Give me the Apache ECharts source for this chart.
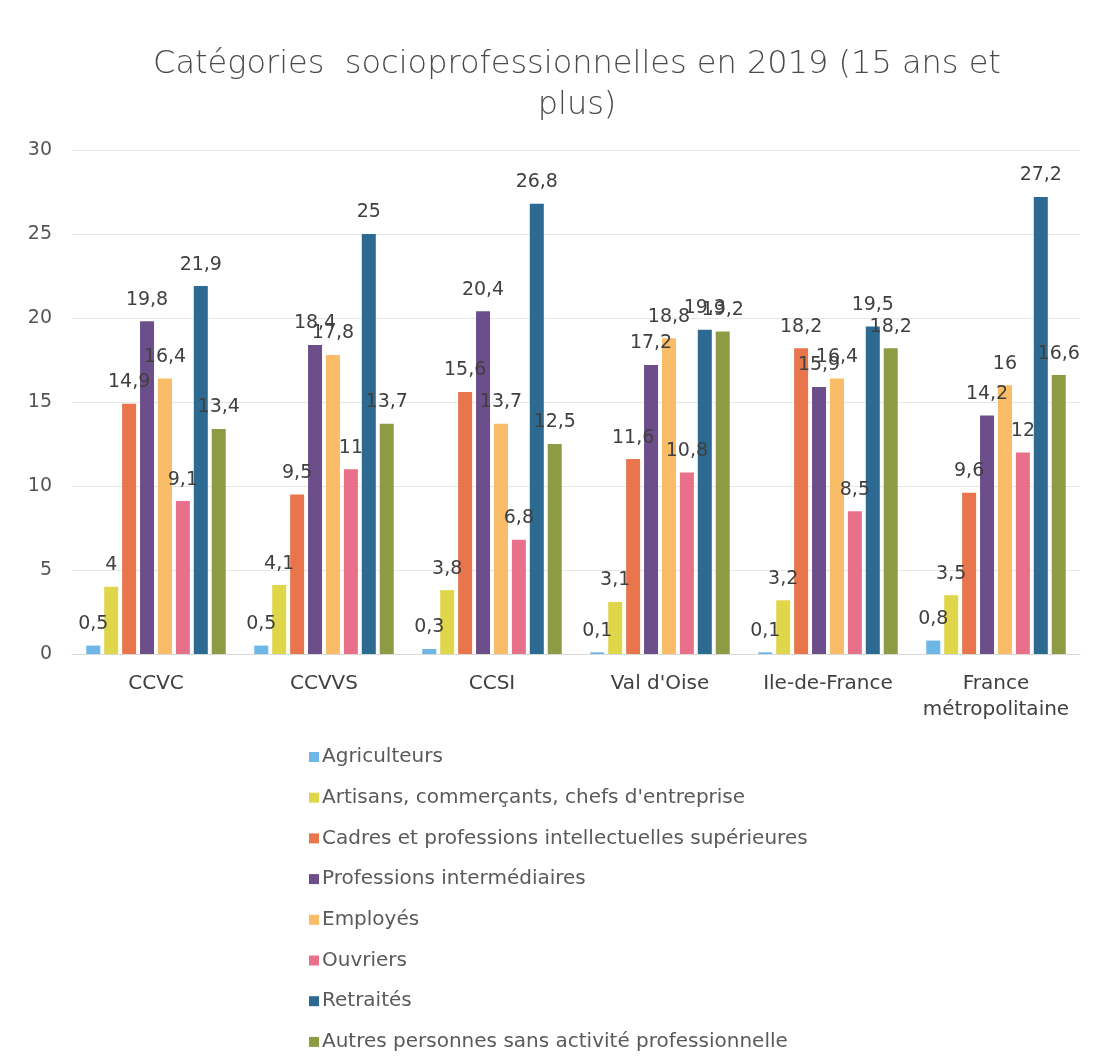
<!DOCTYPE html>
<html>
<head>
<meta charset="utf-8">
<script src="https://cdn.jsdelivr.net/npm/echarts@6/dist/echarts.min.js"></script>
<style>
    html, body { margin: 0; padding: 0; background: #fff; }
    #chart { width: 1120px; height: 1064px; }
</style>
</head>
<body>
<div id="chart"></div>
<script>
// territoires
var territoires = ["CCVC", "CCVVS", "CCSI", "Val d'Oise", "Ile-de-France", "France\nmétropolitaine"];

// valeurs par catégorie (%)
var agriculteurs = [0.5, 0.5, 0.3, 0.1, 0.1, 0.8];
var artisans = [4, 4.1, 3.8, 3.1, 3.2, 3.5];
var cadres = [14.9, 9.5, 15.6, 11.6, 18.2, 9.6];
var profInter = [19.8, 18.4, 20.4, 17.2, 15.9, 14.2];
var employes = [16.4, 17.8, 13.7, 18.8, 16.4, 16];
var ouvriers = [9.1, 11, 6.8, 10.8, 8.5, 12];
var retraites = [21.9, 25, 26.8, 19.3, 19.5, 27.2];
var autres = [13.4, 13.7, 12.5, 19.2, 18.2, 16.6];

var yTicks = [0, 5, 10, 15, 20, 25, 30];

var seriesDef = [
    {name: "Agriculteurs", data: agriculteurs, color: "#6db6e6"},
    {name: "Artisans, commerçants, chefs d'entreprise", data: artisans, color: "#dfd64a"},
    {name: "Cadres et professions intellectuelles supérieures", data: cadres, color: "#e8754c"},
    {name: "Professions intermédiaires", data: profInter, color: "#6c4f8a"},
    {name: "Employés", data: employes, color: "#f8bd66"},
    {name: "Ouvriers", data: ouvriers, color: "#e8708a"},
    {name: "Retraités", data: retraites, color: "#2c6a92"},
    {name: "Autres personnes sans activité professionnelle", data: autres, color: "#8e9b45"}
];

var FONT = "DejaVu Sans";

var chart = echarts.init(document.getElementById("chart"));

var series = seriesDef.map(function (s) {
    return {
        type: "bar",
        name: s.name,
        data: s.data,
        barWidth: 14,
        barGap: "28%",
        itemStyle: {color: s.color},
        label: {
            show: true,
            position: "top",
            distance: 12,
            color: "#404040",
            fontSize: 19,
            fontFamily: FONT,
            formatter: function (p) {
                return String(p.value).replace(".", ",");
            }
        }
    };
});

chart.setOption({
    animation: false,
    backgroundColor: "#fff",
    title: {
        text: "Catégories  socioprofessionnelles en 2019 (15 ans et\nplus)",
        left: 572,
        textAlign: "center",
        top: 39,
        textStyle: {
            fontFamily: FONT,
            fontWeight: 200,
            fontSize: 32,
            color: "#4a4a4a",
            lineHeight: 41
        }
    },
    legend: {
        orient: "vertical",
        left: 304,
        top: 742,
        itemWidth: 10,
        itemHeight: 10,
        itemGap: 20.7,
        icon: "rect",
        data: seriesDef.map(function (s) { return s.name; }),
        textStyle: {
            fontFamily: FONT,
            fontSize: 20,
            color: "#5a5a5a",
            lineHeight: 20,
            padding: [0, 0, 0, -2]
        }
    },
    grid: {
        left: 72,
        right: 40,
        top: 150,
        bottom: 410
    },
    xAxis: {
        type: "category",
        data: territoires,
        axisTick: {show: false},
        axisLine: {lineStyle: {color: "#d9d9d9"}},
        axisLabel: {
            interval: 0,
            fontFamily: FONT,
            fontSize: 20,
            color: "#404040",
            margin: 17,
            lineHeight: 26
        }
    },
    yAxis: {
        type: "value",
        min: yTicks[0],
        max: yTicks[yTicks.length - 1],
        interval: 5,
        axisLabel: {
            fontFamily: FONT,
            fontSize: 19,
            color: "#555",
            margin: 20
        },
        splitLine: {lineStyle: {color: "#e6e6e6"}}
    },
    series: series
});
</script>
</body>
</html>
